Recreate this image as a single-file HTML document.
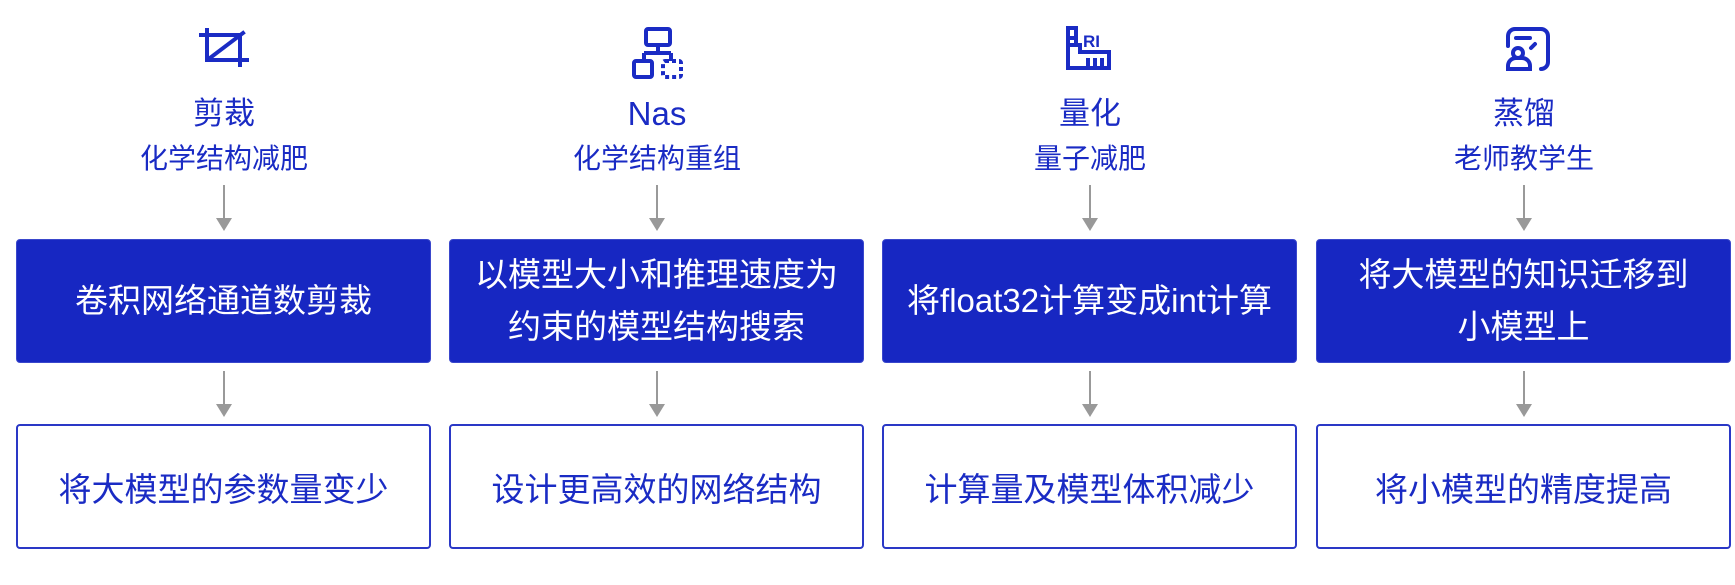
<!DOCTYPE html>
<html><head><meta charset="utf-8"><style>
body{margin:0;width:1735px;height:585px;background:#fff;position:relative;overflow:hidden;font-family:"Liberation Sans","Noto Sans CJK SC",sans-serif;}
.t{position:absolute;text-align:center;color:#1a2bc4;white-space:nowrap}
.title{font-size:31px;top:88px;width:300px;font-weight:normal}
.sub{font-size:28px;top:137px;width:300px}
.box{position:absolute;top:239px;height:124px;width:415px;background:#1727c2;border:1px solid #3a47cc;border-radius:4px;box-sizing:border-box;color:#fff;font-size:33px;display:flex;align-items:center;justify-content:center;text-align:center;line-height:52px}
.res{position:absolute;top:424px;height:125px;width:415px;background:#fff;border:2px solid #2a38c6;border-radius:4px;box-sizing:border-box;color:#1a2bc4;font-size:33px;display:flex;align-items:center;justify-content:center}
</style></head><body>

<svg width="1735" height="585" style="position:absolute;left:0;top:0">
<g stroke="#999" stroke-width="2" fill="#999">
<line x1="224" y1="185" x2="224" y2="220"/><polygon points="216,218 232,218 224,231" stroke="none"/>
<line x1="224" y1="371" x2="224" y2="406"/><polygon points="216,404 232,404 224,417" stroke="none"/>
<line x1="657" y1="185" x2="657" y2="220"/><polygon points="649,218 665,218 657,231" stroke="none"/>
<line x1="657" y1="371" x2="657" y2="406"/><polygon points="649,404 665,404 657,417" stroke="none"/>
<line x1="1090" y1="185" x2="1090" y2="220"/><polygon points="1082,218 1098,218 1090,231" stroke="none"/>
<line x1="1090" y1="371" x2="1090" y2="406"/><polygon points="1082,404 1098,404 1090,417" stroke="none"/>
<line x1="1524" y1="185" x2="1524" y2="220"/><polygon points="1516,218 1532,218 1524,231" stroke="none"/>
<line x1="1524" y1="371" x2="1524" y2="406"/><polygon points="1516,404 1532,404 1524,417" stroke="none"/>
</g>
<g stroke="#1a2bc4" stroke-width="4" fill="none" stroke-linecap="square">
<path d="M207 30 V60 H247"/><path d="M201 35 H240 V65"/><path d="M210 58 L243 33"/>
</g>
<g stroke="#1a2bc4" stroke-width="4" fill="none">
<rect x="646" y="29" width="24" height="16" rx="2"/>
<path d="M658 45 V53 M644 53 H671 M644 53 V61 M671 53 V61"/>
<rect x="634" y="61" width="18" height="16" rx="2"/>
<rect x="663" y="61" width="18" height="16" rx="2" stroke-dasharray="4 3"/>
</g>
<g stroke="#1a2bc4" stroke-width="4" fill="none">
<path d="M1068 28 H1076 V45 H1080 V52 H1109 V68 H1068 Z"/>
<path d="M1068 38 H1074 M1068 45 H1074 M1088 58 V66 M1095 58 V66 M1102 58 V66"/>
</g>
<text x="1083" y="47" font-family="Liberation Sans" font-weight="bold" font-size="17" fill="#1a2bc4">RI</text>
<g stroke="#1a2bc4" stroke-width="4" fill="none" stroke-linecap="round">
<path d="M1508 46 V36 a7 7 0 0 1 7 -7 H1541 a7 7 0 0 1 7 7 V62 a7 7 0 0 1 -7 7"/>
<path d="M1516 38 H1530"/>
<circle cx="1518" cy="53" r="5"/>
<path d="M1508 69 V66 a8 8 0 0 1 8 -8 H1522 a8 8 0 0 1 8 8 V69 Z"/>
<path d="M1531 48 L1535 44"/>
</g>
</svg>

<div class="t title" style="left:74px">剪裁</div>
<div class="t sub" style="left:74px">化学结构减肥</div>
<div class="t title" style="left:507px;top:95px;font-size:33px">Nas</div>
<div class="t sub" style="left:507px">化学结构重组</div>
<div class="t title" style="left:940px">量化</div>
<div class="t sub" style="left:940px">量子减肥</div>
<div class="t title" style="left:1374px">蒸馏</div>
<div class="t sub" style="left:1374px">老师教学生</div>

<div class="box" style="left:16px">卷积网络通道数剪裁</div>
<div class="box" style="left:449px">以模型大小和推理速度为<br>约束的模型结构搜索</div>
<div class="box" style="left:882px">将float32计算变成int计算</div>
<div class="box" style="left:1316px">将大模型的知识迁移到<br>小模型上</div>

<div class="res" style="left:16px">将大模型的参数量变少</div>
<div class="res" style="left:449px">设计更高效的网络结构</div>
<div class="res" style="left:882px">计算量及模型体积减少</div>
<div class="res" style="left:1316px">将小模型的精度提高</div>
</body></html>
